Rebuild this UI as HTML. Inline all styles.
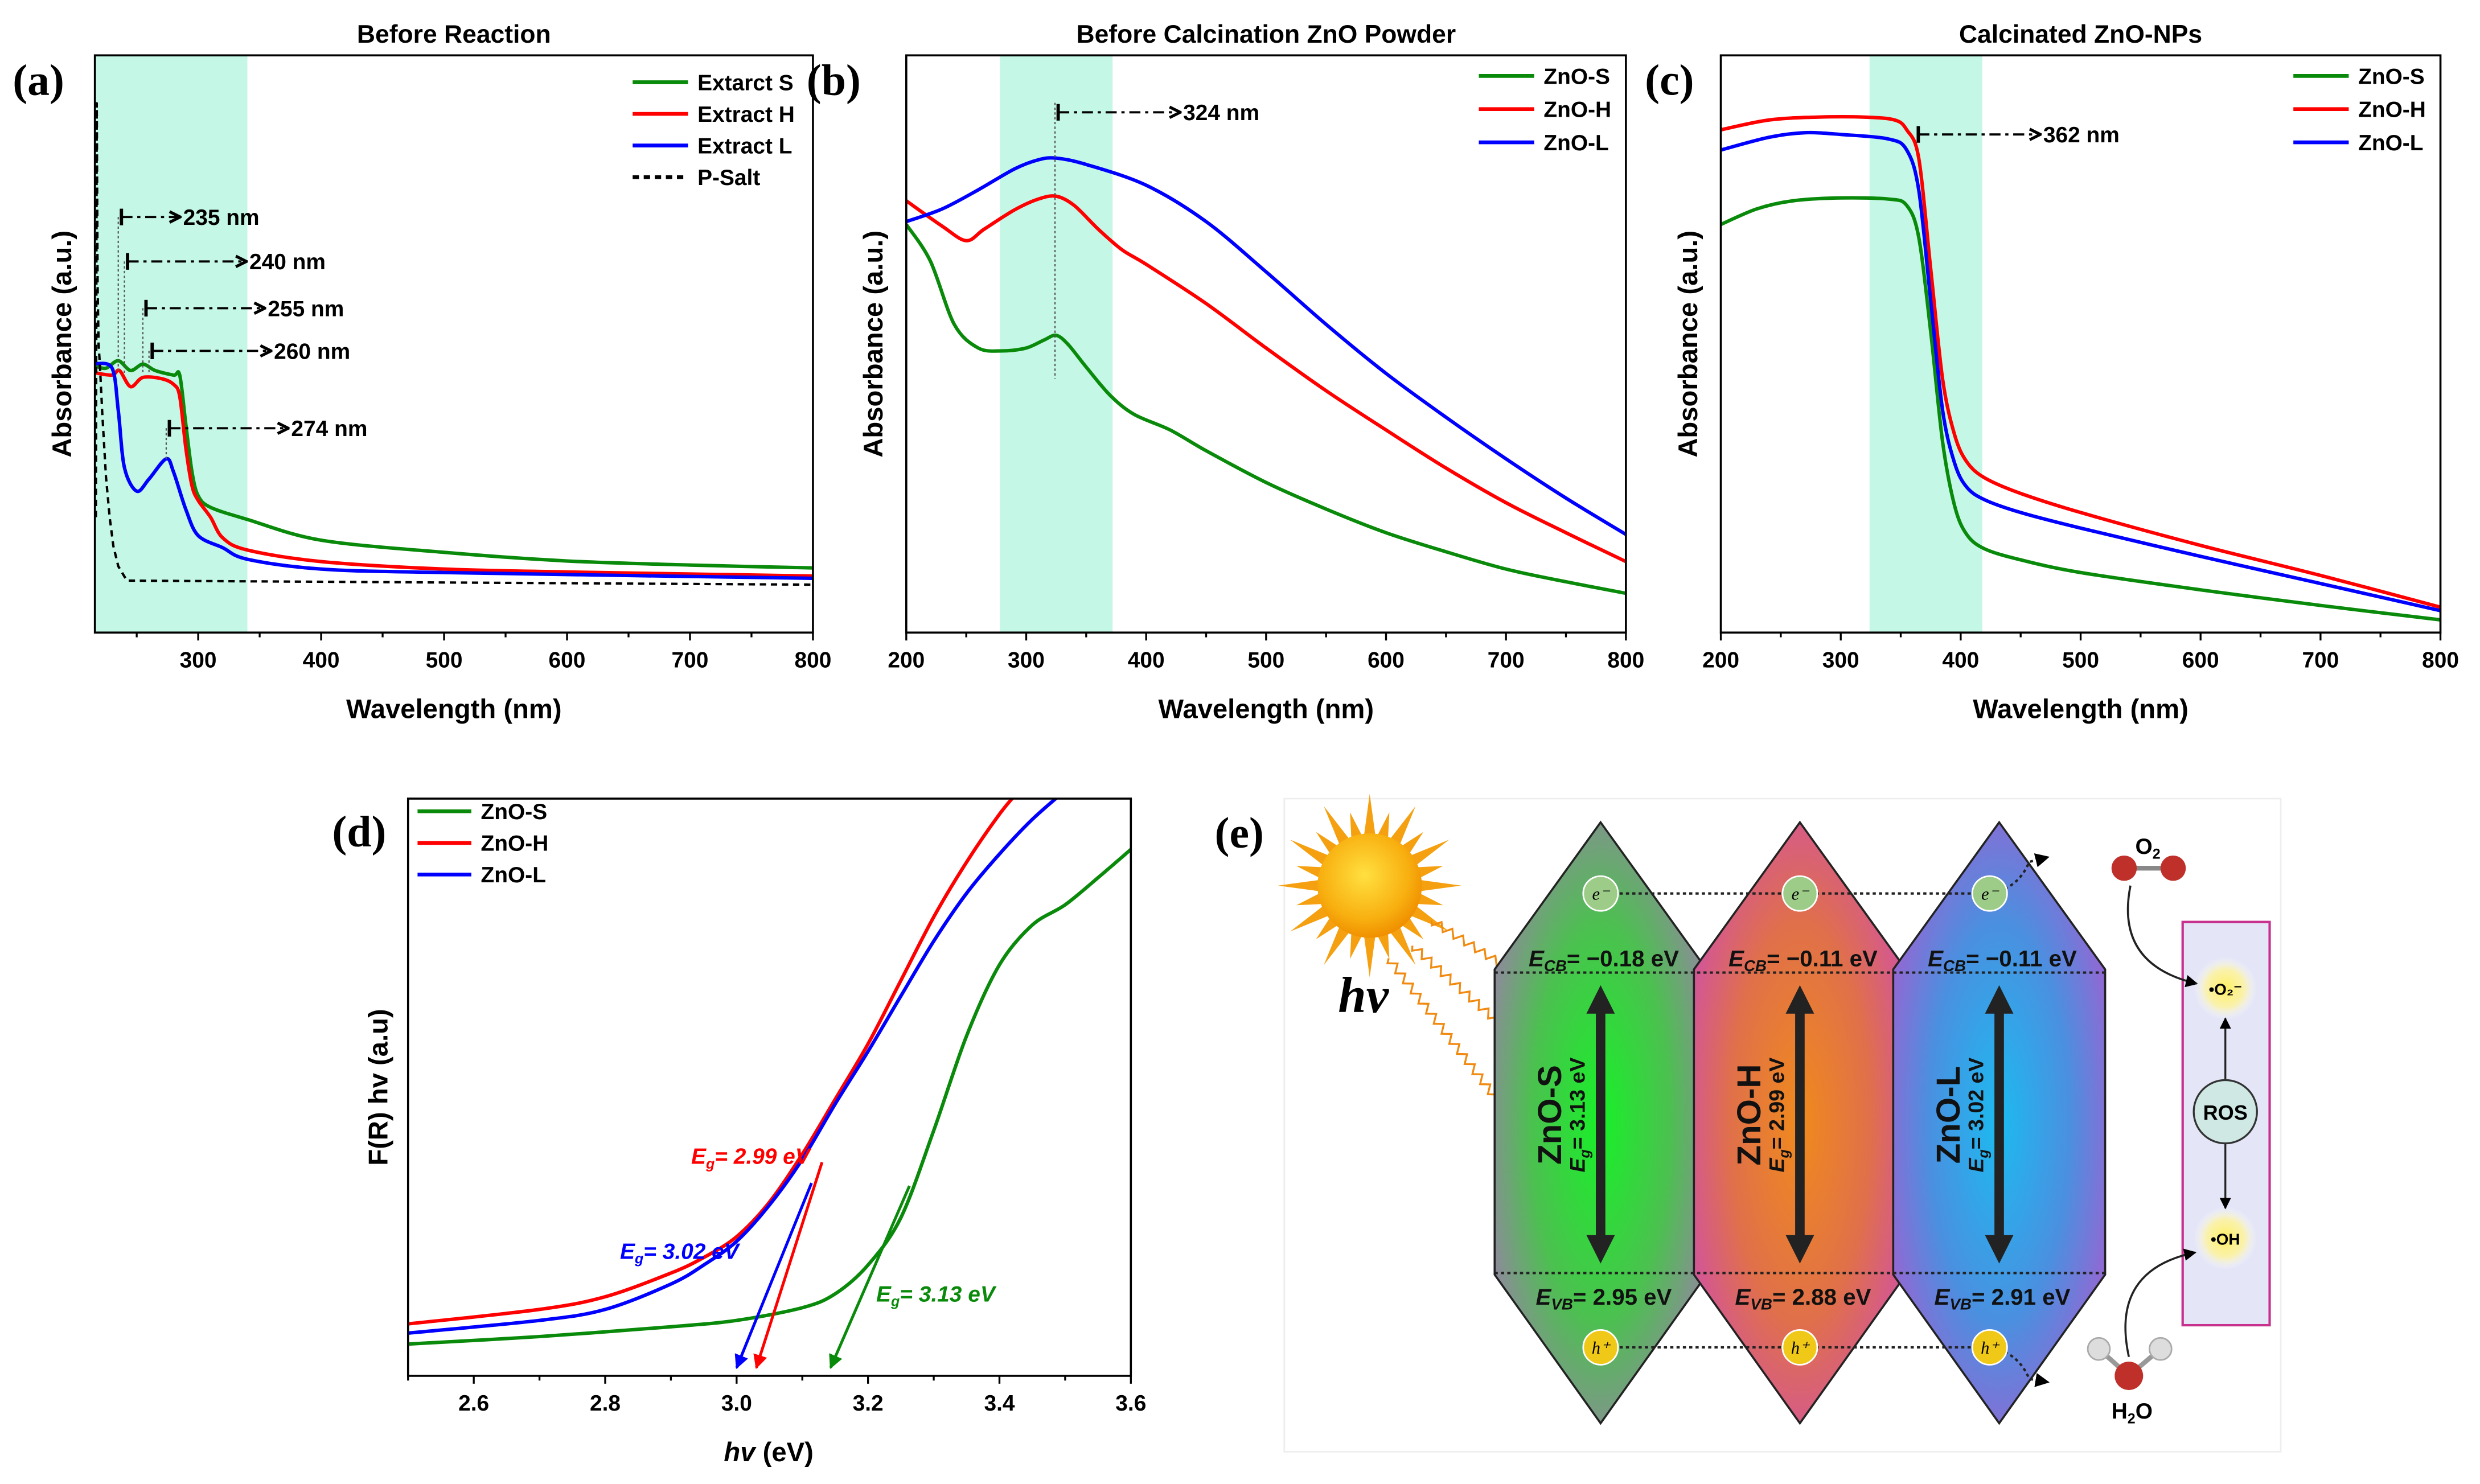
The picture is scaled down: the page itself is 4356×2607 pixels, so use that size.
<!DOCTYPE html>
<html><head><meta charset="utf-8"><style>
html,body{margin:0;padding:0;background:#fff;}
svg{display:block;font-family:"Liberation Sans",Arial,sans-serif;}
</style></head><body>
<svg id="fig" xmlns="http://www.w3.org/2000/svg" width="4356" height="2607" viewBox="0 0 1568 938.4">
<defs>
<radialGradient id="gS" cx="0.5" cy="0.5" r="0.6"><stop offset="0" stop-color="#18f028"/><stop offset="0.55" stop-color="#4cc050"/><stop offset="1" stop-color="#9a80a8"/></radialGradient>
<radialGradient id="gH" cx="0.5" cy="0.5" r="0.6"><stop offset="0" stop-color="#f08a1c"/><stop offset="0.55" stop-color="#e0704a"/><stop offset="1" stop-color="#d050a8"/></radialGradient>
<radialGradient id="gL" cx="0.5" cy="0.5" r="0.6"><stop offset="0" stop-color="#1cbaf0"/><stop offset="0.55" stop-color="#4a90e0"/><stop offset="1" stop-color="#a060d0"/></radialGradient>
<radialGradient id="sun" cx="0.45" cy="0.4" r="0.6"><stop offset="0" stop-color="#ffe040"/><stop offset="0.7" stop-color="#f8b010"/><stop offset="1" stop-color="#f09000"/></radialGradient>
<radialGradient id="glow" cx="0.5" cy="0.5" r="0.5"><stop offset="0" stop-color="#fff060"/><stop offset="0.6" stop-color="#fff49a" stop-opacity="0.8"/><stop offset="1" stop-color="#ffffff" stop-opacity="0"/></radialGradient>
<marker id="ah" viewBox="0 0 10 10" refX="9" refY="5" markerWidth="6" markerHeight="6" orient="auto"><path d="M0,0 L10,5 L0,10 Z" fill="#000"/></marker>
<marker id="ahr" viewBox="0 0 10 10" refX="9" refY="5" markerWidth="5" markerHeight="5" orient="auto"><path d="M0,0 L10,5 L0,10 Z" fill="#ff0000"/></marker>
<marker id="ahb" viewBox="0 0 10 10" refX="9" refY="5" markerWidth="5" markerHeight="5" orient="auto"><path d="M0,0 L10,5 L0,10 Z" fill="#0000ff"/></marker>
<marker id="ahg" viewBox="0 0 10 10" refX="9" refY="5" markerWidth="5" markerHeight="5" orient="auto"><path d="M0,0 L10,5 L0,10 Z" fill="#0a8a0a"/></marker>
<marker id="aho" viewBox="0 0 10 10" refX="10" refY="5" markerWidth="6" markerHeight="6" orient="auto"><path d="M1,1 L9,5 L1,9" fill="none" stroke="#000" stroke-width="2.2"/></marker>
<marker id="aor" viewBox="0 0 10 10" refX="9" refY="5" markerWidth="5" markerHeight="5" orient="auto"><path d="M0,0 L10,5 L0,10 Z" fill="#f08a10"/></marker>
<marker id="bar" viewBox="0 0 4 10" refX="2" refY="5" markerWidth="3" markerHeight="8" orient="auto"><path d="M2,0 L2,10" stroke="#000" stroke-width="2"/></marker>
<marker id="dh" viewBox="0 0 10 10" refX="5" refY="5" markerWidth="3" markerHeight="3" orient="auto-start-reverse"><path d="M0,0 L10,5 L0,10 Z" fill="#222"/></marker>
</defs>
<g id="charts"></g>

<g id="panel-e">
<rect x="812" y="505" width="630" height="413" fill="none" stroke="#eeeeee" stroke-width="1"/>
<text x="768" y="536" font-family="Liberation Serif,serif" font-weight="bold" font-size="28">(e)</text>
<g id="sunrays" fill="#f5a010"></g>
<circle cx="866" cy="560" r="33" fill="url(#sun)"/>
<text x="846" y="640" font-family="Liberation Serif,serif" font-style="italic" font-weight="bold" font-size="32">hv</text>
<g id="waves" fill="none" stroke="#f08a10" stroke-width="1.2"></g>
<g stroke="#222" stroke-width="1.3">
<path d="M1012,520 L1079,613 L1079,806 L1012,900 L945,806 L945,613 Z" fill="url(#gS)"/>
<path d="M1138,520 L1205,613 L1205,806 L1138,900 L1071,806 L1071,613 Z" fill="url(#gH)"/>
<path d="M1264,520 L1331,613 L1331,806 L1264,900 L1197,806 L1197,613 Z" fill="url(#gL)"/>
</g>
<g stroke="#222" stroke-width="1.5" stroke-dasharray="2,2" fill="none">
<line x1="945" y1="615" x2="1331" y2="615"/>
<line x1="945" y1="805" x2="1331" y2="805"/>
<path d="M1012,565 L1258,565 q18,-3 25,-20 l12,-3" marker-end="url(#ah)"/>
<path d="M1012,852 L1258,852 q18,3 25,20 l12,2" marker-end="url(#ah)"/>
</g>
<g font-family="Liberation Serif,serif" font-style="italic" font-size="11" text-anchor="middle">
<circle cx="1012" cy="565" r="11" fill="#9ccc88" stroke="#fff" stroke-width="1"/><text x="1012" y="569">e⁻</text>
<circle cx="1138" cy="565" r="11" fill="#9ccc88" stroke="#fff" stroke-width="1"/><text x="1138" y="569">e⁻</text>
<circle cx="1258" cy="565" r="11" fill="#9ccc88" stroke="#fff" stroke-width="1"/><text x="1258" y="569">e⁻</text>
</g>
<g font-family="Liberation Serif,serif" font-style="italic" font-size="11" text-anchor="middle">
<circle cx="1012" cy="852" r="11" fill="#f0c818" stroke="#fff" stroke-width="1"/><text x="1012" y="856">h⁺</text>
<circle cx="1138" cy="852" r="11" fill="#f0c818" stroke="#fff" stroke-width="1"/><text x="1138" y="856">h⁺</text>
<circle cx="1258" cy="852" r="11" fill="#f0c818" stroke="#fff" stroke-width="1"/><text x="1258" y="856">h⁺</text>
</g>
<g font-weight="bold" font-size="14.5" text-anchor="middle" fill="#111">
<text x="1014" y="611"><tspan font-style="italic">E</tspan><tspan font-size="10" dy="3" font-style="italic">CB</tspan><tspan dy="-3">= −0.18 eV</tspan></text>
<text x="1140" y="611"><tspan font-style="italic">E</tspan><tspan font-size="10" dy="3" font-style="italic">CB</tspan><tspan dy="-3">= −0.11 eV</tspan></text>
<text x="1266" y="611"><tspan font-style="italic">E</tspan><tspan font-size="10" dy="3" font-style="italic">CB</tspan><tspan dy="-3">= −0.11 eV</tspan></text>
<text x="1014" y="825"><tspan font-style="italic">E</tspan><tspan font-size="10" dy="3" font-style="italic">VB</tspan><tspan dy="-3">= 2.95 eV</tspan></text>
<text x="1140" y="825"><tspan font-style="italic">E</tspan><tspan font-size="10" dy="3" font-style="italic">VB</tspan><tspan dy="-3">= 2.88 eV</tspan></text>
<text x="1266" y="825"><tspan font-style="italic">E</tspan><tspan font-size="10" dy="3" font-style="italic">VB</tspan><tspan dy="-3">= 2.91 eV</tspan></text>
</g>
<g stroke="#222" stroke-width="6" marker-start="url(#dh)" marker-end="url(#dh)">
<line x1="1012" y1="632" x2="1012" y2="790"/>
<line x1="1138" y1="632" x2="1138" y2="790"/>
<line x1="1264" y1="632" x2="1264" y2="790"/>
</g>
<g font-weight="bold" fill="#111" text-anchor="middle">
<text transform="translate(987,705) rotate(-90)" font-size="21">ZnO-S</text>
<text transform="translate(1002,705) rotate(-90)" font-size="13.5"><tspan font-style="italic">E</tspan><tspan font-size="9" dy="3" font-style="italic">g</tspan><tspan dy="-3">= 3.13 eV</tspan></text>
<text transform="translate(1113,705) rotate(-90)" font-size="21">ZnO-H</text>
<text transform="translate(1128,705) rotate(-90)" font-size="13.5"><tspan font-style="italic">E</tspan><tspan font-size="9" dy="3" font-style="italic">g</tspan><tspan dy="-3">= 2.99 eV</tspan></text>
<text transform="translate(1239,705) rotate(-90)" font-size="21">ZnO-L</text>
<text transform="translate(1254,705) rotate(-90)" font-size="13.5"><tspan font-style="italic">E</tspan><tspan font-size="9" dy="3" font-style="italic">g</tspan><tspan dy="-3">= 3.02 eV</tspan></text>
</g>
<g>
<line x1="1343" y1="549" x2="1374" y2="549" stroke="#888" stroke-width="3"/>
<circle cx="1343" cy="549" r="8" fill="#c0302a"/><circle cx="1374" cy="549" r="8" fill="#c0302a"/>
<text x="1358" y="540" text-anchor="middle" font-size="14" font-weight="bold">O<tspan font-size="9" dy="3">2</tspan></text>
</g>
<g>
<line x1="1327" y1="853" x2="1346" y2="870" stroke="#999" stroke-width="3"/><line x1="1366" y1="853" x2="1346" y2="870" stroke="#999" stroke-width="3"/>
<circle cx="1327" cy="853" r="7" fill="#ddd" stroke="#aaa"/><circle cx="1366" cy="853" r="7" fill="#ddd" stroke="#aaa"/>
<circle cx="1346" cy="870" r="9" fill="#c0302a"/>
<text x="1348" y="897" text-anchor="middle" font-size="14" font-weight="bold">H<tspan font-size="9" dy="3">2</tspan><tspan dy="-3">O</tspan></text>
</g>
<rect x="1380" y="583" width="55" height="255" fill="#e4e6f8" stroke="#c8308e" stroke-width="1.5"/>
<path d="M1347,560 q-10,50 42,62" fill="none" stroke="#222" stroke-width="1.3" marker-end="url(#ah)"/>
<path d="M1346,858 q-12,-55 42,-66" fill="none" stroke="#222" stroke-width="1.3" marker-end="url(#ah)"/>
<circle cx="1407" cy="625" r="20" fill="url(#glow)"/>
<circle cx="1407" cy="783" r="20" fill="url(#glow)"/>
<text x="1407" y="629" text-anchor="middle" font-size="10" font-weight="bold">•O₂⁻</text>
<text x="1407" y="787" text-anchor="middle" font-size="10" font-weight="bold">•OH</text>
<line x1="1407" y1="683" x2="1407" y2="644" stroke="#222" stroke-width="1.2" marker-end="url(#ah)"/>
<line x1="1407" y1="723" x2="1407" y2="764" stroke="#222" stroke-width="1.2" marker-end="url(#ah)"/>
<circle cx="1407" cy="703" r="20" fill="#cfe8e4" stroke="#333" stroke-width="1.2"/>
<text x="1407" y="708" text-anchor="middle" font-size="13" font-weight="bold">ROS</text>
</g>

<script>
// ---------- Panel (a) data ----------
const aWlS = [216,225,235,245,255,265,280,285,290,295,300,310,340,400,500,600,700,800];
const aAbsS = [0.462,0.458,0.471,0.454,0.465,0.454,0.446,0.446,0.360,0.278,0.237,0.217,0.196,0.160,0.139,0.124,0.117,0.112];
const aWlH = [216,230,236,245,255,270,280,285,290,295,300,310,320,340,400,500,600,800];
const aAbsH = [0.450,0.446,0.454,0.426,0.442,0.440,0.430,0.409,0.319,0.254,0.229,0.200,0.164,0.143,0.123,0.110,0.105,0.098];
const aWlL = [216,230,235,240,250,260,274,280,290,300,320,340,400,500,800];
const aAbsL = [0.466,0.458,0.385,0.286,0.245,0.266,0.301,0.278,0.213,0.168,0.147,0.127,0.110,0.104,0.094];
const aWlP = [216.8,217.5,218.2,219,220,222,225,228,231,235,242,800];
const aAbsP = [0.20,0.917,0.60,0.50,0.466,0.38,0.27,0.20,0.15,0.115,0.09,0.083];
const aPeaks = [235,240,255,260,274];
const aPeakLabels = ["235 nm","240 nm","255 nm","260 nm","274 nm"];
const aPeakLevel = [0.720,0.643,0.562,0.488,0.354];
const aPeakLen = [40,78,78,78,78];
const aTicks = [300,400,500,600,700,800];
// ---------- Panel (b) data ----------
const bWlS = [200,220,240,260,280,300,315,325,335,350,370,390,420,450,500,550,600,650,700,750,800];
const bAbsS = [0.707,0.644,0.534,0.493,0.488,0.493,0.507,0.515,0.499,0.460,0.411,0.378,0.351,0.315,0.260,0.214,0.173,0.140,0.110,0.088,0.068];
const bWlH = [200,230,250,265,290,310,325,340,360,380,400,450,500,550,600,650,700,750,800];
const bAbsH = [0.748,0.704,0.679,0.699,0.732,0.751,0.756,0.740,0.699,0.663,0.638,0.570,0.493,0.419,0.351,0.285,0.225,0.173,0.123];
const bWlL = [200,230,260,290,310,325,350,400,450,500,550,600,650,700,750,800];
const bAbsL = [0.712,0.734,0.767,0.803,0.819,0.822,0.811,0.775,0.712,0.625,0.534,0.449,0.373,0.301,0.233,0.170];
const bPeak = 324;
// ---------- Panel (c) data ----------
const cWlS = [200,230,260,300,340,355,365,375,385,395,405,420,450,500,600,700,800];
const cAbsS = [0.707,0.734,0.748,0.753,0.751,0.740,0.685,0.521,0.329,0.219,0.170,0.145,0.126,0.104,0.074,0.047,0.022];
const cWlH = [200,240,280,320,345,355,365,375,385,395,405,420,450,500,600,700,800];
const cAbsH = [0.871,0.888,0.893,0.893,0.888,0.871,0.822,0.630,0.438,0.342,0.296,0.268,0.241,0.208,0.151,0.099,0.044];
const cWlL = [200,240,270,300,340,355,365,375,385,395,405,420,450,500,600,700,800];
const cAbsL = [0.836,0.858,0.866,0.863,0.855,0.836,0.767,0.575,0.384,0.293,0.252,0.230,0.208,0.181,0.132,0.085,0.038];
const cEdge = 362;
const bcTicks = [200,300,400,500,600,700,800];
// ---------- Panel (d) data ----------
const dEvS = [2.5,2.7,2.9,3.0,3.1,3.15,3.2,3.25,3.3,3.35,3.4,3.45,3.5,3.55,3.6];
const dFS = [0.055,0.068,0.085,0.096,0.118,0.142,0.192,0.274,0.425,0.589,0.712,0.781,0.816,0.863,0.912];
const dEvH = [2.5,2.7,2.8,2.9,2.95,3.0,3.05,3.1,3.15,3.2,3.25,3.3,3.35,3.4,3.43];
const dFH = [0.090,0.115,0.137,0.178,0.205,0.241,0.301,0.384,0.479,0.575,0.685,0.795,0.890,0.973,1.014];
const dEvL = [2.5,2.7,2.8,2.9,2.95,3.0,3.05,3.1,3.15,3.2,3.25,3.3,3.35,3.4,3.45,3.5];
const dFL = [0.074,0.096,0.115,0.159,0.192,0.233,0.296,0.375,0.471,0.562,0.658,0.753,0.836,0.904,0.964,1.014];
const dTangentStart = [[3.13,0.37],[3.114,0.334],[3.263,0.329]];
const dTangentEnd = [[3.03,0.014],[3.0,0.014],[3.143,0.014]];
const dEgLabels = ["2.99 eV","3.02 eV","3.13 eV"];
const dTicks = [2.6,2.8,3.0,3.2,3.4,3.6];

const NS = "http://www.w3.org/2000/svg";
const root = document.getElementById("charts");
function mk(parent, tag, attrs, name, inter) {
  const el = document.createElementNS(NS, tag);
  for (const k in attrs) el.setAttribute(k, attrs[k]);
  
  
  parent.appendChild(el);
  return el;
}
function span(parent, txt, attrs) {
  const t = document.createElementNS(NS, "tspan");
  for (const k in attrs) t.setAttribute(k, attrs[k]);
  t.textContent = txt;
  parent.appendChild(t);
  return t;
}
function smooth(pts) {
  let d = "M" + pts[0][0].toFixed(2) + "," + pts[0][1].toFixed(2);
  for (let i = 0; i < pts.length - 1; i++) {
    const p0 = pts[i-1] || pts[i], p1 = pts[i], p2 = pts[i+1], p3 = pts[i+2] || p2;
    const t = 0.16;
    const c1 = [p1[0] + (p2[0]-p0[0])*t, p1[1] + (p2[1]-p0[1])*t];
    const c2 = [p2[0] - (p3[0]-p1[0])*t, p2[1] - (p3[1]-p1[1])*t];
    d += " C" + c1[0].toFixed(2) + "," + c1[1].toFixed(2) + " " + c2[0].toFixed(2) + "," + c2[1].toFixed(2) + " " + p2[0].toFixed(2) + "," + p2[1].toFixed(2);
  }
  return d;
}
function linear(pts) {
  return "M" + pts.map(p => p[0].toFixed(2) + "," + p[1].toFixed(2)).join(" L");
}
function makePanel(o) {
  const g = mk(root, "g", {}, o.name, false);
  const sx = v => o.x0 + (v - o.xmin) / (o.xmax - o.xmin) * (o.x1 - o.x0);
  const sy = v => o.y1 - v * (o.y1 - o.y0);
  const cid = "clip-" + o.name;
  const cp = mk(g, "clipPath", {id: cid}, o.name + "-clip", false);
  mk(cp, "rect", {x: o.x0, y: o.y0, width: o.x1 - o.x0, height: o.y1 - o.y0}, o.name + "-clip-rect", false);
  if (o.band) mk(g, "rect", {x: sx(o.band[0]), y: o.y0, width: sx(o.band[1]) - sx(o.band[0]), height: o.y1 - o.y0, fill: "#c4f7e6"}, o.name + "-highlight-band", false);
  const sg = mk(g, "g", {"clip-path": "url(#" + cid + ")"}, o.name + "-series", false);
  o.series.forEach(s => {
    const pts = s.x.map((v, i) => [sx(v), sy(s.y[i])]);
    const at = {d: s.lin ? linear(pts) : smooth(pts), fill: "none", stroke: s.color, "stroke-width": s.w || 2.2, "stroke-linejoin": "round"};
    if (s.dash) at["stroke-dasharray"] = s.dash;
    mk(sg, "path", at, s.name, false);
  });
  mk(g, "rect", {x: o.x0, y: o.y0, width: o.x1 - o.x0, height: o.y1 - o.y0, fill: "none", stroke: "#000", "stroke-width": 1.3}, o.name + "-frame", false);
  const step = o.ticks[1] - o.ticks[0];
  for (let v = o.ticks[0] - step / 2; v <= o.xmax + 1e-9; v += step / 2) {
    if (v < o.xmin - 1e-9) continue;
    const major = o.ticks.some(t => Math.abs(t - v) < 1e-6);
    mk(g, "line", {x1: sx(v), x2: sx(v), y1: o.y1, y2: o.y1 + (major ? 5 : 3), stroke: "#000", "stroke-width": 1.2}, o.name + "-x-tick", false);
  }
  o.ticks.forEach(t => {
    const tx = mk(g, "text", {x: sx(t), y: o.y1 + 22, "text-anchor": "middle", "font-size": 14, "font-weight": "bold"}, o.name + "-x-tick-label", false);
    tx.textContent = o.fmt ? o.fmt(t) : t;
  });
  if (o.xlabel) {
    const xl = mk(g, "text", {x: (o.x0 + o.x1) / 2, y: o.y1 + 54, "text-anchor": "middle", "font-size": 17, "font-weight": "bold"}, o.name + "-x-axis-title", false);
    xl.textContent = o.xlabel;
  }
  const yl = mk(g, "text", {transform: "translate(" + o.ylx + "," + ((o.y0 + o.y1) / 2) + ") rotate(-90)", "text-anchor": "middle", "font-size": 17, "font-weight": "bold"}, o.name + "-y-axis-title", false);
  yl.textContent = o.ylabel;
  if (o.title) {
    const ti = mk(g, "text", {x: (o.x0 + o.x1) / 2, y: o.y0 - 8, "text-anchor": "middle", "font-size": 16, "font-weight": "bold"}, o.name + "-title", false);
    ti.textContent = o.title;
  }
  const pl = mk(g, "text", {x: o.plx, y: o.ply, "font-family": "Liberation Serif,serif", "font-size": 28, "font-weight": "bold"}, o.name + "-label", false);
  pl.textContent = o.plabel;
  o.series.forEach((s, i) => {
    const ly = o.leg[1] + i * o.leg[3];
    const at = {x1: o.leg[0], x2: o.leg[0] + o.leg[2], y1: ly, y2: ly, stroke: s.color, "stroke-width": 2.4};
    if (s.dash) at["stroke-dasharray"] = "4,3";
    mk(g, "line", at, "legend-swatch-" + s.name, true);
    const lt = mk(g, "text", {x: o.leg[0] + o.leg[2] + 6, y: ly + 5, "font-size": 14, "font-weight": "bold"}, "legend-entry-" + s.name, true);
    lt.textContent = s.label;
  });
  return {g, sx, sy};
}
function annot(g, x, y, len, label, name) {
  mk(g, "line", {x1: x + 2, x2: x + len, y1: y, y2: y, stroke: "#000", "stroke-width": 1.4, "stroke-dasharray": "7,3,2,3", "marker-start": "url(#bar)", "marker-end": "url(#aho)"}, name + "-arrow", false);
  const t = mk(g, "text", {x: x + len + 1, y: y + 5, "font-size": 14, "font-weight": "bold"}, name + "-label", false);
  t.textContent = label;
}

// Panel a
const pa = makePanel({name: "panel-a", x0: 60, x1: 514, y0: 35, y1: 400, xmin: 216, xmax: 800, band: [216, 340],
  ticks: aTicks, xlabel: "Wavelength (nm)", ylabel: "Absorbance (a.u.)", ylx: 45, title: "Before Reaction",
  plabel: "(a)", plx: 8, ply: 60, leg: [400, 52, 35, 20],
  series: [
    {name: "p-salt-line", label: "P-Salt", x: aWlP, y: aAbsP, color: "#000", dash: "4,3", w: 1.5, lin: true, legIdx: 3},
    {name: "extract-s-line", label: "Extarct S", x: aWlS, y: aAbsS, color: "#0a8a0a"},
    {name: "extract-h-line", label: "Extract H", x: aWlH, y: aAbsH, color: "#ff0000"},
    {name: "extract-l-line", label: "Extract L", x: aWlL, y: aAbsL, color: "#0000ff"}
  ].slice(1).concat([{name: "p-salt-line", label: "P-Salt", x: aWlP, y: aAbsP, color: "#000", dash: "4,3", w: 1.5, lin: true}])});
aPeaks.forEach((p, i) => {
  const x = pa.sx(p), y = pa.sy(aPeakLevel[i]);
  mk(pa.g, "line", {x1: x, x2: x, y1: y, y2: pa.sy(i === 4 ? 0.3 : 0.45), stroke: "#555", "stroke-width": 0.8, "stroke-dasharray": "1.5,1.5"}, "peak-guide-" + p, false);
  annot(pa.g, x, y, aPeakLen[i], aPeakLabels[i], "peak-" + p);
});

// Panel b
const pb = makePanel({name: "panel-b", x0: 573, x1: 1028, y0: 35, y1: 400, xmin: 200, xmax: 800, band: [278, 372],
  ticks: bcTicks, xlabel: "Wavelength (nm)", ylabel: "Absorbance (a.u.)", ylx: 558, title: "Before Calcination ZnO Powder",
  plabel: "(b)", plx: 510, ply: 60, leg: [935, 48, 35, 21],
  series: [
    {name: "zno-s-line-b", label: "ZnO-S", x: bWlS, y: bAbsS, color: "#0a8a0a"},
    {name: "zno-h-line-b", label: "ZnO-H", x: bWlH, y: bAbsH, color: "#ff0000"},
    {name: "zno-l-line-b", label: "ZnO-L", x: bWlL, y: bAbsL, color: "#0000ff"}
  ]});
{
  const x = pb.sx(bPeak);
  mk(pb.g, "line", {x1: x, x2: x, y1: 65, y2: pb.sy(0.44), stroke: "#555", "stroke-width": 0.8, "stroke-dasharray": "1.5,1.5"}, "peak-guide-324", false);
  annot(pb.g, x, 71, 80, bPeak + " nm", "peak-324");
}

// Panel c
const pc = makePanel({name: "panel-c", x0: 1088, x1: 1543, y0: 35, y1: 400, xmin: 200, xmax: 800, band: [324, 418],
  ticks: bcTicks, xlabel: "Wavelength (nm)", ylabel: "Absorbance (a.u.)", ylx: 1073, title: "Calcinated ZnO-NPs",
  plabel: "(c)", plx: 1040, ply: 60, leg: [1450, 48, 35, 21],
  series: [
    {name: "zno-s-line-c", label: "ZnO-S", x: cWlS, y: cAbsS, color: "#0a8a0a"},
    {name: "zno-h-line-c", label: "ZnO-H", x: cWlH, y: cAbsH, color: "#ff0000"},
    {name: "zno-l-line-c", label: "ZnO-L", x: cWlL, y: cAbsL, color: "#0000ff"}
  ]});
annot(pc.g, pc.sx(cEdge), 85, 80, cEdge + " nm", "edge-362");

// Panel d
const pd = makePanel({name: "panel-d", x0: 258, x1: 715, y0: 505, y1: 870, xmin: 2.5, xmax: 3.6,
  ticks: dTicks, fmt: v => v.toFixed(1), xlabel: null, ylabel: "F(R) hv (a.u)", ylx: 245, title: null,
  plabel: "(d)", plx: 210, ply: 535, leg: [264, 513, 34, 20],
  series: [
    {name: "zno-s-tauc", label: "ZnO-S", x: dEvS, y: dFS, color: "#0a8a0a"},
    {name: "zno-h-tauc", label: "ZnO-H", x: dEvH, y: dFH, color: "#ff0000"},
    {name: "zno-l-tauc", label: "ZnO-L", x: dEvL, y: dFL, color: "#0000ff"}
  ]});
{
  const xt = mk(pd.g, "text", {x: 486, y: 924, "text-anchor": "middle", "font-size": 17, "font-weight": "bold"}, "panel-d-x-axis-title", false);
  span(xt, "hv", {"font-style": "italic", "font-family": "Liberation Sans,sans-serif"});
  span(xt, " (eV)", {});
  const cols = ["#ff0000", "#0000ff", "#0a8a0a"], marks = ["ahr", "ahb", "ahg"];
  const lpos = [[437, 736], [392, 796], [554, 823]];
  dTangentStart.forEach((s, i) => {
    mk(pd.g, "line", {x1: pd.sx(s[0]), y1: pd.sy(s[1]), x2: pd.sx(dTangentEnd[i][0]), y2: pd.sy(dTangentEnd[i][1]), stroke: cols[i], "stroke-width": 1.8, "marker-end": "url(#" + marks[i] + ")"}, "tangent-arrow-" + i, false);
    const t = mk(pd.g, "text", {x: lpos[i][0], y: lpos[i][1], fill: cols[i], "font-size": 14, "font-weight": "bold", "font-style": "italic"}, "eg-label-" + i, false);
    span(t, "E", {});
    span(t, "g", {"font-size": 9, dy: 3});
    span(t, "= " + dEgLabels[i], {dy: -3});
  });
}

// Panel e decorations: sun spikes and wavy light rays
{
  const sr = document.getElementById("sunrays");
  for (let k = 0; k < 24; k++) {
    const a = k * Math.PI / 12, a1 = a - 0.12, a2 = a + 0.12;
    const R = (k % 2 ? 48 : 58), r = 31;
    const pts = [[866 + r * Math.cos(a1), 560 + r * Math.sin(a1)], [866 + R * Math.cos(a), 560 + R * Math.sin(a)], [866 + r * Math.cos(a2), 560 + r * Math.sin(a2)]];
    mk(sr, "polygon", {points: pts.map(p => p.join(",")).join(" ")}, "sun-ray", false);
  }
  const wv = document.getElementById("waves");
  const rays = [[[905, 582], [985, 632]], [[893, 598], [968, 665]], [[878, 606], [950, 700]]];
  rays.forEach((r, i) => {
    const [p, q] = r;
    const dx = q[0] - p[0], dy = q[1] - p[1], L = Math.hypot(dx, dy);
    const nx = -dy / L, ny = dx / L;
    const n = Math.floor(L / 2);
    let d = "M" + p[0] + "," + p[1];
    for (let j = 1; j <= n; j++) {
      const t = j / n, off = 2.5 * Math.sin(j * 2 * Math.PI / 4);
      d += " L" + (p[0] + dx * t + nx * off).toFixed(2) + "," + (p[1] + dy * t + ny * off).toFixed(2);
    }
    mk(wv, "path", {d: d, "marker-end": "url(#aor)"}, "light-ray-" + i, false);
  });
}
</script>
</svg>
</body></html>
